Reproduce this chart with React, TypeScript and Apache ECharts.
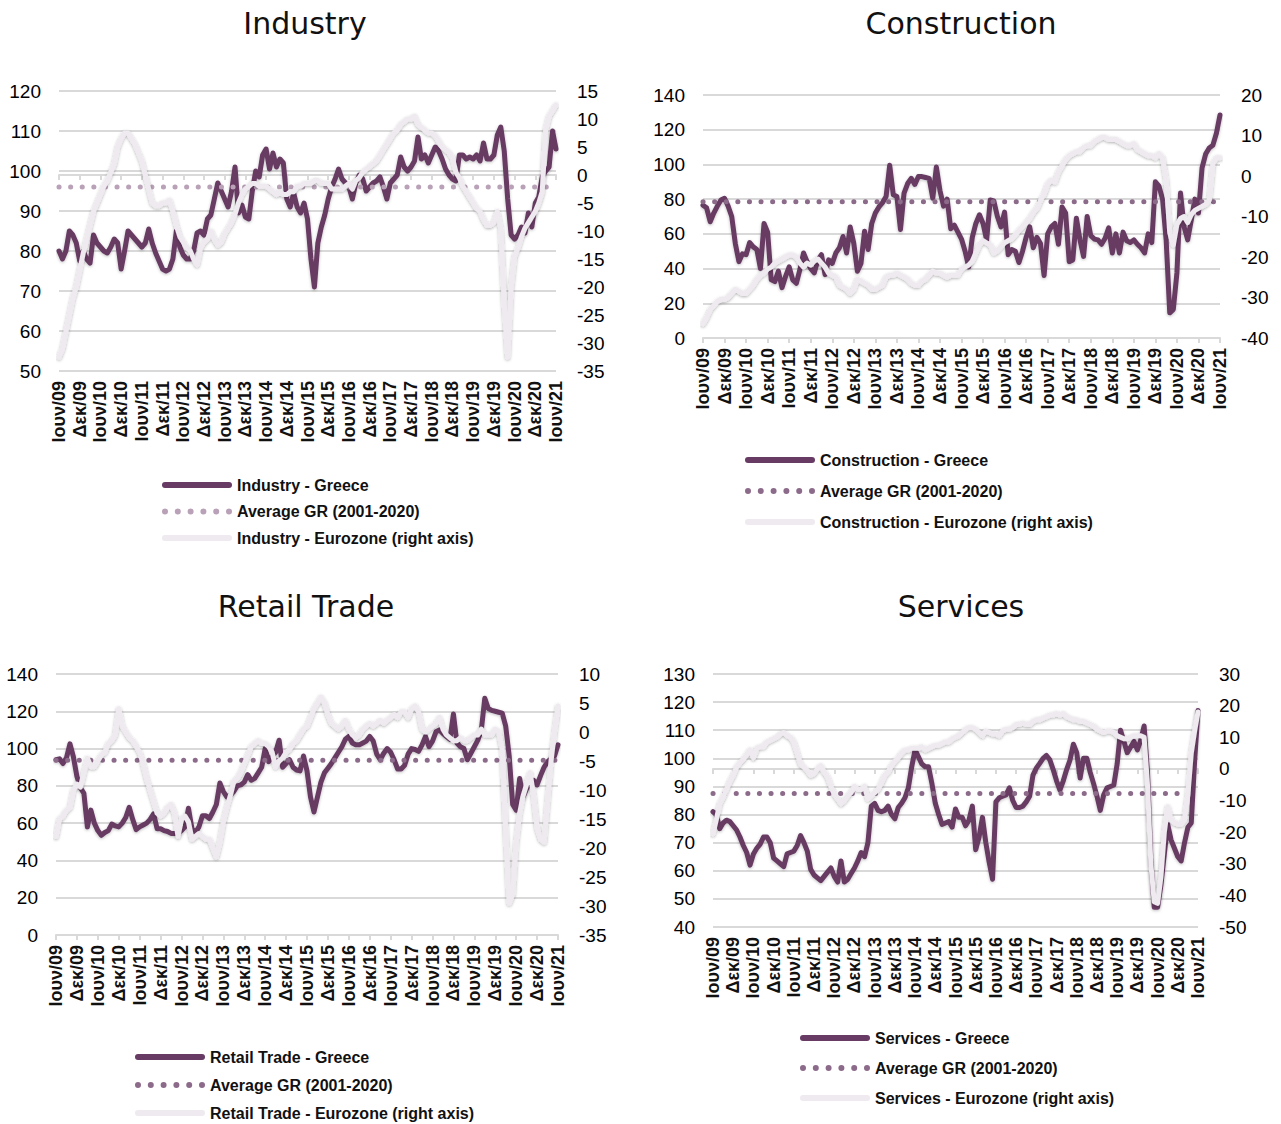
import React, { useEffect, useRef } from "react";
import * as echarts from "echarts";

const MONTHS_GR = ["Ιαν", "Φεβ", "Μαρ", "Απρ", "Μαΐ", "Ιουν", "Ιουλ", "Αυγ", "Σεπ", "Οκτ", "Νοε", "Δεκ"];
const categories: string[] = [];
for (let k = 0; k < 145; k++) {
  const m = (5 + k) % 12;
  const y = 2009 + Math.floor((5 + k) / 12);
  categories.push(MONTHS_GR[m] + "/" + String(y % 100).padStart(2, "0"));
}

// Industry
const industryGreece = [
  80, 78, 80, 85, 84, 82, 77.5, 80, 78, 77, 84, 82,
  81, 80, 79.5, 81, 83, 82, 75.5, 80, 85, 84, 83, 82,
  81, 82, 85.5, 82, 79.5, 77.5, 75.5, 75, 75.5, 78, 85, 81,
  79, 78, 78, 80, 84.5, 85, 84, 88, 89, 93, 97, 95,
  93, 91, 95, 101, 89.5, 91.5, 88.5, 88, 95, 100, 98.5, 104,
  105.5, 100.5, 104.5, 101, 103, 102, 93, 91, 94.5, 91, 89.5, 92,
  88, 78, 71, 82, 86, 89, 93, 96, 98, 100.5, 98, 97,
  96, 93, 97, 99, 98, 95, 96, 97, 97.5, 98.5, 96, 93,
  97, 98, 99, 103.5, 101, 100, 101, 102.5, 108.5, 103, 104, 102,
  104, 106, 105, 103, 100.5, 99, 98, 97.5, 104, 104, 103, 103.5,
  103, 104, 102.5, 107, 103, 103, 104, 109, 111, 105, 93, 84,
  83, 84, 86, 84.5, 89.5, 86, 92, 93.5, 98.5, 100, 101, 110,
  105.5,
];
const industryEurozone = [
  -32.5, -31, -28, -25, -22, -20, -17, -14, -11.5, -9, -6.5, -5,
  -3.5, -2, -1, 0.5, 2, 5, 6.5, 7.5, 7.5, 6.5, 5.5, 4,
  2.5, 0, -2.5, -5, -5.5, -5.5, -5, -5, -4.5, -6.5, -9, -11,
  -12, -13, -13.5, -15, -16, -13, -12, -11.5, -10, -11.5, -12.5, -12,
  -10.5, -9.5, -8.5, -7, -5, -3.5, -2.5, -2, -1.5, -1.5, -2, -2,
  -2, -2.5, -3, -3.5, -3, -3.5, -3.5, -3, -3, -2, -2, -1.5,
  -1.5, -1.5, -1, -1, -1.5, -1.5, -1.5, -2.5, -2.5, -2.5, -2.5, -2,
  -1.5, -2.5, -1, -0.5, 0.5, 1, 1.5, 2, 2.5, 3.5, 4.5, 5.5,
  6.5, 7.5, 8, 9, 9.5, 10, 10, 10.5, 9, 8.5, 8, 7.5,
  7.5, 7, 6, 5, 4.5, 4, 3, 0.5, -0.5, -2, -3, -4,
  -5, -6, -6.5, -8, -9, -9, -8.5, -6.5, -9.5, -23, -32.5, -20,
  -14.5, -13, -11, -9.5, -8.5, -7.5, -6.5, -5, -3, 8, 10.5, 11.5,
  12.5,
];
const industryAvg = 96;

// Construction
const constructionGreece = [
  76.5, 75, 67, 72, 76, 79.5, 80.5, 76, 70, 54.5, 44, 48.5,
  48, 55, 52.5, 51, 40, 66, 61, 33.5, 32.5, 38.5, 29, 35.5,
  41, 33.5, 31.5, 39.5, 49, 44, 40, 37.5, 45, 48, 36.5, 45,
  43, 49, 52, 58.5, 49, 64, 54.5, 38.5, 43, 61.5, 51, 66,
  72, 75.5, 78, 81.5, 99.5, 82.5, 81.5, 62.5, 83.5, 89, 92, 88.5,
  93, 93, 92.5, 92, 80.5, 98.5, 85, 76, 80, 63, 65, 61,
  57, 50, 41, 58, 66, 71, 66, 56.5, 79.5, 79, 70, 64,
  72.5, 48, 51, 50, 43.5, 50, 58, 64, 52, 58, 54.5, 36,
  60, 64, 66, 54, 75.5, 72, 44, 45, 69, 56.5, 47, 70,
  59, 57, 56.5, 54, 57.5, 63.5, 49, 60, 49, 61, 56, 55,
  56.5, 54, 52, 49, 60, 55, 90, 87.5, 80, 56.5, 14.5, 16.5,
  37.5, 83.5, 64, 56.5, 68, 80, 72, 98, 106, 109.5, 111, 118,
  128.5,
];
const constructionEurozone = [
  -36.5, -35, -33, -32, -31, -30.5, -30.5, -30, -29, -28, -28.5, -29,
  -29, -28, -27, -25.5, -24.5, -24, -23, -22.5, -21.5, -21, -20.5, -20,
  -19.5, -19.5, -20, -21.5, -22.5, -21.5, -22, -21, -20.5, -21.5, -22.5, -24,
  -24.5, -25, -27, -27.5, -28, -29, -28, -25.5, -26, -26.5, -27, -28,
  -28, -27.5, -27, -25, -24.5, -24.5, -24, -24.5, -25, -25.5, -26.5, -27,
  -27, -26, -25.5, -24.5, -23.5, -24, -24, -24.5, -25, -24.5, -24.5, -24.5,
  -23, -22.5, -22, -21, -19, -17, -16, -16.5, -17, -19, -18.5, -17.5,
  -16.5, -16, -15.5, -14.5, -13.5, -12.5, -11.5, -10.5, -9, -8, -6, -4.5,
  -2, -1, -1.5, 1, 2.5, 4, 5, 5.5, 6, 6, 7, 7.5,
  7.5, 8.5, 9, 9.5, 9.5, 9, 9, 9, 8.5, 8, 7.5, 7.5,
  8, 6.5, 6, 5.5, 5, 5, 4.5, 5.5, 4.5, -1, -14, -17,
  -12, -10.5, -10, -11.5, -9.5, -8.5, -8, -7.5, -7, -6, 3, 4.5,
  4.5,
];
const constructionAvg = 78.5;

// Retail Trade
const retailGreece = [
  94, 94.5, 92, 95, 102.5, 95.5, 85, 79, 76, 58, 67, 60,
  56, 53.5, 55, 56, 59.5, 58.5, 58, 60, 63, 68.5, 62, 56.5,
  58, 59, 60, 62, 65, 57, 57, 56, 55.5, 54.5, 54.5, 54.5,
  56, 58, 68, 57, 55, 58, 64, 64, 62.5, 66, 70, 81.5,
  77, 74, 75, 77, 80, 80.5, 82, 86, 83, 84, 87, 90,
  100, 93, 96, 98, 104.5, 90, 92, 94, 90, 88.5, 88, 96,
  88, 74, 66, 74, 82, 87, 89.5, 92, 95, 98, 101, 105,
  106.5, 103, 102, 102, 103, 104, 106.5, 104, 97, 94, 97.5, 100,
  98, 94, 89, 89, 91, 97, 100, 99.5, 98.5, 102, 106.5, 101,
  104, 109, 110, 108, 106.5, 105, 118.5, 103, 101, 100, 94, 97.5,
  101, 104.5, 110, 127, 121.5, 120.5, 120, 119.5, 119, 112, 96, 70,
  67, 84, 74, 78.5, 82, 83, 80.5, 85.5, 90, 93, 94.5, 96,
  102,
];
const retailEurozone = [
  -18, -15, -14.5, -13.5, -13, -10, -9, -9.5, -7, -4.5, -6, -6,
  -5, -4, -3.5, -2, -1.5, -0.5, 4, 1, 0, -1, -1.5, -2.5,
  -3.5, -5.5, -8, -10, -12, -14, -14.5, -14, -13, -12.5, -14, -18,
  -15, -14.5, -15.5, -18.5, -18, -17.5, -18, -18.5, -18.5, -20, -21.5, -19,
  -15.5, -13, -11, -8.5, -8, -7, -5.5, -4, -2.5, -2, -1.5, -2,
  -2, -2.5, -3.5, -6, -5, -4.5, -3.5, -3, -2, -1.5, -0.5, 0.5,
  1, 2.5, 4, 5, 6, 5, 3, 1.5, 1, 0.5, 1, 2,
  0.5, -0.5, -1, -0.5, 0.5, 1, 1.5, 1, 1.5, 2, 1.5, 2,
  2.5, 3, 2.5, 3.5, 3.5, 2.5, 4, 4.5, 3.5, 0.5, 0, 0.5,
  1, 1.5, 2.5, 0.5, -0.5, -1, -1.5, -1.5, -1, -1.5, -1.5, -1,
  -0.5, -0.5, 0.5, -0.5, -0.5, -0.5, 0.5, 0, -3, -17, -29.5, -28,
  -19, -14, -11, -9, -7, -11, -16.5, -18.5, -19, -12, -5, 0,
  4.5,
];
const retailAvg = 93.8;

// Services
const servicesGreece = [
  81, 80, 75, 77, 78, 77.5, 76, 74.5, 72, 69, 66.5, 62,
  66, 68, 69.5, 72, 72, 70, 64.5, 63.5, 62.5, 61.5, 66, 66.5,
  67, 69, 72.5, 70, 67, 60.5, 58.5, 57.5, 56.5, 58, 59.5, 61,
  58, 56, 63.5, 56, 57, 59, 61, 63.5, 66.5, 65, 70, 83,
  84, 81.5, 81, 81.5, 83, 80, 78.5, 82.5, 84, 86, 89.5, 97,
  103, 100.5, 98, 97, 97, 91, 84, 80, 76.5, 77, 77.5, 75.5,
  82, 79, 79, 76, 78, 83, 67.5, 72, 79, 70, 63, 57,
  84.5, 86, 86.5, 87, 89.5, 85, 82.5, 82.5, 83, 84.5, 86.5, 94,
  96.5, 98.2, 100, 101, 99.5, 96, 92, 88.7, 92, 96, 99.4, 105,
  102, 93, 100, 100, 95, 91, 86.5, 81.5, 87, 89.5, 90, 90.5,
  98, 110, 106, 102, 104, 106, 103, 106.5, 111.5, 95, 64, 47,
  47, 55, 66, 76.5, 71, 68, 65, 63.5, 70, 75.5, 77, 99,
  117,
];
const servicesEurozone = [
  -20.5, -16, -11, -9, -6.5, -4, -2, 0.5, 2, 3, 4.5, 6,
  3.5, 6.5, 7, 7, 8.5, 9, 9.5, 10, 11, 11.5, 10.5, 10,
  8.5, 5, 1.5, 0.5, -0.5, -2, -1.5, 0, 1, -1, -2.5, -5.5,
  -8, -9.5, -11, -10, -8.5, -7.5, -5.5, -6.5, -6.5, -5.5, -9.5, -8.5,
  -7.5, -6.5, -4.5, -2, -1, 1, 2.5, 3.5, 5, 6, 6, 6.5,
  6.5, 6.5, 7, 6, 6.5, 7, 7.5, 7.5, 8, 8.5, 8.5, 9.5,
  10, 10.5, 11.5, 12.5, 13, 13, 12.5, 11.5, 10.5, 12, 11.5, 11,
  11, 10.5, 12, 12.5, 12.5, 13, 14, 14, 14.5, 14, 14, 15,
  15.5, 15.5, 16, 16.5, 17, 17, 17.5, 17, 17.5, 16.5, 16, 15.5,
  15.5, 15, 15, 14.5, 14, 13.5, 12.5, 12, 11.5, 12, 12, 11.5,
  10.5, 10, 9.5, 9.5, 10, 10.5, 10.5, 10.5, 10, -5, -30, -42,
  -42.5, -34, -20, -12, -16, -17, -17.5, -17.5, -16, -8, 5, 12,
  18,
];
const servicesAvg = 87.5;

const PURPLE = "#673B64";
const EZ = "#EFEAF0";
const GRID = "#D9D9D9";
const UI_FONT = "'Liberation Sans', Arial, sans-serif";

// legend icons (70 x 6 boxes)
const LINE_ICON = "path://M3,0 L67,0 A3,3 0 0,1 67,6 L3,6 A3,3 0 0,1 3,0 Z";
const DOT_CENTERS = [3, 15.8, 28.6, 41.4, 54.2, 67];
const DOTS_ICON = "path://" + DOT_CENTERS.map((c) => `M${c - 3},3 a3,3 0 1,0 6,0 a3,3 0 1,0 -6,0 Z`).join(" ");

const panels = [
  {
    title: "Industry", tx: 305, ty: 8,
    grid: { left: 59, top: 91, width: 497, height: 280 },
    leftAxis: [50, 120, 10], rightAxis: [-35, 15, 5],
    greece: industryGreece, ez: industryEurozone, avg: industryAvg,
    names: ["Industry - Greece", "Average GR (2001-2020)#0", "Industry - Eurozone (right axis)"],
    avgColor: "#B9A1B7",
    legend: { left: 162, top: 475, gap: 6.5 },
  },
  {
    title: "Construction", tx: 961, ty: 8,
    grid: { left: 703, top: 95, width: 517, height: 243 },
    leftAxis: [0, 140, 20], rightAxis: [-40, 20, 10],
    greece: constructionGreece, ez: constructionEurozone, avg: constructionAvg,
    names: ["Construction - Greece", "Average GR (2001-2020)#1", "Construction - Eurozone (right axis)"],
    avgColor: "#8C6A8A",
    legend: { left: 745, top: 450, gap: 11 },
  },
  {
    title: "Retail Trade", tx: 306, ty: 591,
    grid: { left: 56, top: 674, width: 502, height: 261 },
    leftAxis: [0, 140, 20], rightAxis: [-35, 10, 5],
    greece: retailGreece, ez: retailEurozone, avg: retailAvg,
    names: ["Retail Trade - Greece", "Average GR (2001-2020)#2", "Retail Trade - Eurozone (right axis)"],
    avgColor: "#8C6A8A",
    legend: { left: 135, top: 1047, gap: 8 },
  },
  {
    title: "Services", tx: 961, ty: 591,
    grid: { left: 713, top: 674, width: 485, height: 253 },
    leftAxis: [40, 130, 10], rightAxis: [-50, 30, 10],
    greece: servicesGreece, ez: servicesEurozone, avg: servicesAvg,
    names: ["Services - Greece", "Average GR (2001-2020)#3", "Services - Eurozone (right axis)"],
    avgColor: "#8C6A8A",
    legend: { left: 800, top: 1028, gap: 10 },
  },
];

function buildOption() {
  const title: any[] = [];
  const grid: any[] = [];
  const xAxis: any[] = [];
  const yAxis: any[] = [];
  const legend: any[] = [];
  const series: any[] = [];
  panels.forEach((p, i) => {
    title.push({
      text: p.title, left: p.tx, top: p.ty, textAlign: "center", padding: 0,
      textStyle: { fontFamily: "'DejaVu Sans', Verdana, sans-serif", fontSize: 30, fontWeight: "normal", color: "#111" },
    });
    grid.push({ ...p.grid, containLabel: false });
    xAxis.push({
      type: "category", gridIndex: i, data: categories, boundaryGap: false,
      axisLine: { show: true, lineStyle: { color: GRID, width: 2 } },
      axisTick: { show: true, interval: 5, length: 5, lineStyle: { color: GRID, width: 2 } },
      axisLabel: { interval: 5, rotate: 90, margin: 10, fontSize: 18, fontWeight: "bold", fontFamily: UI_FONT, color: "#111" },
      splitLine: { show: false },
    });
    yAxis.push({
      type: "value", gridIndex: i, position: "left",
      min: p.leftAxis[0], max: p.leftAxis[1], interval: p.leftAxis[2],
      axisLine: { show: false }, axisTick: { show: false },
      axisLabel: { margin: 18, fontSize: 19, fontFamily: UI_FONT, color: "#000" },
      splitLine: { show: true, lineStyle: { color: GRID, width: 2 } },
    });
    yAxis.push({
      type: "value", gridIndex: i, position: "right",
      min: p.rightAxis[0], max: p.rightAxis[1], interval: p.rightAxis[2],
      axisLine: { show: false }, axisTick: { show: false },
      axisLabel: { margin: 21, fontSize: 19, fontFamily: UI_FONT, color: "#000" },
      splitLine: { show: false },
    });
    legend.push({
      orient: "vertical", left: p.legend.left, top: p.legend.top, itemGap: p.legend.gap,
      itemWidth: 70, itemHeight: 6, padding: 0,
      itemStyle: { borderWidth: 0 },
      data: [
        { name: p.names[0], icon: LINE_ICON },
        { name: p.names[1], icon: DOTS_ICON },
        { name: p.names[2], icon: LINE_ICON },
      ],
      formatter: (name: string) => name.replace(/#\d$/, ""),
      textStyle: { fontSize: 16, fontWeight: "bold", fontFamily: UI_FONT, color: "#111", lineHeight: 20 },
    });
    series.push({
      name: p.names[0], type: "line", xAxisIndex: i, yAxisIndex: 2 * i,
      data: p.greece, symbol: "none", z: 2,
      itemStyle: { color: PURPLE },
      lineStyle: { color: PURPLE, width: 5, join: "round", cap: "round", shadowBlur: 3, shadowColor: "rgba(0,0,0,0.25)", shadowOffsetY: 1 },
    });
    series.push({
      name: p.names[1], type: "line", xAxisIndex: i, yAxisIndex: 2 * i,
      data: p.greece.map(() => p.avg), symbol: "none", z: 3,
      itemStyle: { color: p.avgColor },
      lineStyle: { color: p.avgColor, width: 5, type: [0.1, 11.5], cap: "round" },
    });
    series.push({
      name: p.names[2], type: "line", xAxisIndex: i, yAxisIndex: 2 * i + 1,
      data: p.ez, symbol: "none", z: 4,
      itemStyle: { color: EZ },
      lineStyle: { color: EZ, width: 5, join: "round", cap: "round", shadowBlur: 3, shadowColor: "rgba(0,0,0,0.3)", shadowOffsetY: 1 },
    });
  });
  return { animation: false, backgroundColor: "#fff", title, grid, xAxis, yAxis, legend, series };
}

export default function App() {
  const ref = useRef<HTMLDivElement>(null);
  useEffect(() => {
    if (!ref.current) return;
    const chart = echarts.init(ref.current, null, { renderer: "svg" });
    chart.setOption(buildOption() as any);
    return () => chart.dispose();
  }, []);
  return <div ref={ref} style={{ position: "absolute", left: 0, top: 0, width: 1281, height: 1124, background: "#fff" }} />;
}
